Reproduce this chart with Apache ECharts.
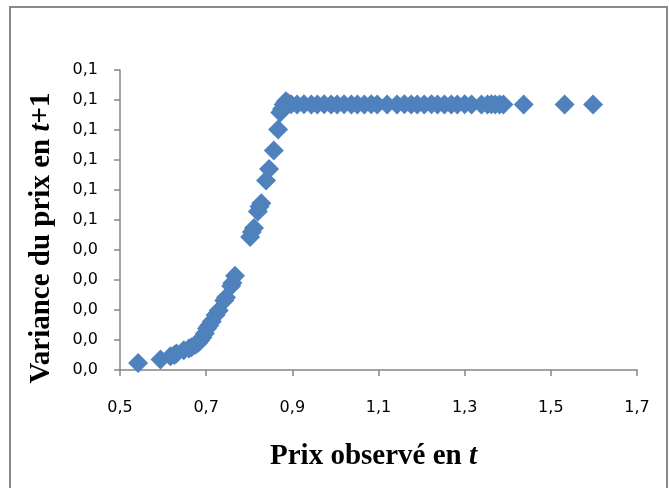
<!DOCTYPE html>
<html>
<head>
<meta charset="utf-8">
<script src="https://cdn.jsdelivr.net/npm/echarts@6/dist/echarts.min.js"></script>
<style>
  html, body { margin: 0; padding: 0; background: #fff; }
  #chart { width: 670px; height: 488px; }
</style>
</head>
<body>
<div id="chart"></div>
<script>
// prix observé en t
const priceT = [
  0.542, 0.594, 0.617, 0.626, 0.631, 0.648, 0.660, 0.666, 0.675, 0.681,
  0.686, 0.691, 0.697, 0.702, 0.707, 0.713, 0.722, 0.729, 0.742, 0.746,
  0.758, 0.761, 0.767, 0.802, 0.806, 0.811, 0.820, 0.824, 0.828, 0.839,
  0.846, 0.857, 0.867, 0.872, 0.876, 0.880, 0.885, 0.890,
  0.897, 0.911, 0.927, 0.944, 0.958, 0.974, 0.990, 1.004, 1.020, 1.037,
  1.051, 1.067, 1.083, 1.097, 1.120, 1.143, 1.160, 1.176, 1.190, 1.206,
  1.223, 1.237, 1.253, 1.269, 1.283, 1.300, 1.316, 1.339, 1.353, 1.362,
  1.371, 1.381, 1.390, 1.437, 1.532, 1.598
]
// variance du prix en t+1
const varianceT1 = [
  0.0023, 0.0035, 0.0046, 0.0050, 0.0055, 0.0066, 0.0072, 0.0076, 0.0084, 0.0090,
  0.0098, 0.0108, 0.0122, 0.0138, 0.0148, 0.0162, 0.0183, 0.0198, 0.0232, 0.0242,
  0.0280, 0.0290, 0.0314, 0.0443, 0.0460, 0.0473, 0.0528, 0.0545, 0.0556, 0.0632,
  0.0670, 0.0732, 0.0802, 0.0858, 0.0870, 0.0885, 0.0896, 0.0890,
  0.0886, 0.0885, 0.0886, 0.0885, 0.0885, 0.0886, 0.0885, 0.0885, 0.0886, 0.0885,
  0.0885, 0.0885, 0.0886, 0.0885, 0.0885, 0.0885, 0.0886, 0.0885, 0.0885, 0.0885,
  0.0886, 0.0885, 0.0885, 0.0885, 0.0885, 0.0886, 0.0885, 0.0885, 0.0885, 0.0886,
  0.0885, 0.0885, 0.0885, 0.0885, 0.0885, 0.0885
]
const xTickLabels = ['0,5', '0,7', '0,9', '1,1', '1,3', '1,5', '1,7']
const yTickLabels = ['0,0', '0,0', '0,0', '0,0', '0,0', '0,1', '0,1', '0,1', '0,1', '0,1', '0,1']

const points = priceT.map((x, i) => [x, varianceT1[i]])

const chart = echarts.init(document.getElementById('chart'))

const axisColor = '#868686'
const titleRich = {
  b: { fontFamily: 'Liberation Serif', fontWeight: 'bold', fontSize: 29, color: '#000' },
  i: { fontFamily: 'Liberation Serif', fontWeight: 'bold', fontStyle: 'italic', fontSize: 29, color: '#000' }
}

chart.setOption({
  animation: false,
  graphic: [
    {
      type: 'rect',
      shape: { x: 10, y: 7, width: 657, height: 490 },
      style: { fill: 'none', stroke: '#8a8a8a', lineWidth: 2 }
    }
  ],
  grid: {
    left: 120,
    right: 33,
    top: 70,
    bottom: 118,
    containLabel: false,
    outerBoundsMode: 'none'
  },
  xAxis: {
    type: 'value',
    min: 0.5,
    max: 1.7,
    interval: 0.2,
    name: '{b|Prix observé en }{i|t}',
    nameLocation: 'middle',
    nameGap: 72,
    nameTextStyle: { padding: [0, 10, 0, 0], rich: titleRich },
    axisLine: { show: true, lineStyle: { color: axisColor, width: 1.5 } },
    axisTick: { show: true, length: 6, lineStyle: { color: axisColor, width: 1.5 } },
    axisLabel: {
      fontFamily: 'DejaVu Sans',
      fontSize: 16,
      color: '#000',
      margin: 30,
      formatter: (v, i) => xTickLabels[i]
    },
    splitLine: { show: false }
  },
  yAxis: {
    type: 'value',
    min: 0,
    max: 0.1,
    interval: 0.01,
    name: '{b|Variance du prix en }{i|t}{b|+1}',
    nameLocation: 'middle',
    nameGap: 64,
    nameTextStyle: { padding: [0, 36, 0, 0], rich: titleRich },
    axisLine: { show: true, lineStyle: { color: axisColor, width: 1.5 } },
    axisTick: { show: true, length: 6, lineStyle: { color: axisColor, width: 1.5 } },
    axisLabel: {
      fontFamily: 'DejaVu Sans',
      fontSize: 16,
      color: '#000',
      margin: 22,
      formatter: (v, i) => yTickLabels[i]
    },
    splitLine: { show: false }
  },
  series: [
    {
      type: 'scatter',
      symbol: 'diamond',
      symbolSize: 20,
      data: points,
      itemStyle: { color: '#4F81BD', opacity: 1 }
    }
  ]
})
</script>
</body>
</html>
